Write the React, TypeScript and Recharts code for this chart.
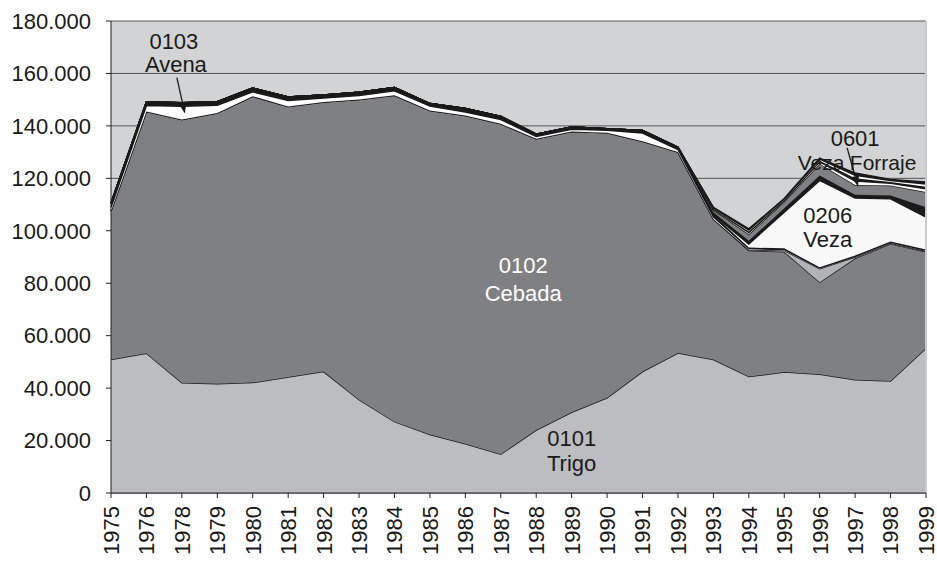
import React from 'react';
import { AreaChart, Area, XAxis, YAxis, CartesianGrid, ReferenceDot, ReferenceLine } from 'recharts';

const years = ['1975','1976','1978','1979','1980','1981','1982','1983','1984','1985','1986','1987','1988','1989','1990','1991','1992','1993','1994','1995','1996','1997','1998','1999'];
const trigo0101 = [50900,53300,42000,41700,42100,44200,46300,35600,27200,22300,18800,14800,24000,30800,36300,46300,53400,50900,44400,46100,45300,43200,42700,55200];
const cebada0102 = [56600,92200,100400,103200,109200,103200,102800,114500,124500,123600,125200,126000,111100,107100,101100,87800,76600,53600,48100,45900,35100,46300,52300,36800];
const otroGris = [0,0,0,0,0,0,0,0,0,0,0,0,0,0,0,0,0,0,300,500,5100,500,300,300];
const avena0103 = [1500,2300,5100,3000,1700,2300,1500,1500,1700,1700,1300,1600,900,800,900,3200,1000,800,400,400,300,300,300,300];
const otroNegro = [1500,1300,1300,1300,1400,1300,1200,1200,1200,900,1300,1200,800,900,600,900,800,800,400,400,300,300,300,300];
const veza0206 = [0,0,0,0,0,0,0,0,0,0,0,0,0,0,0,0,0,0,1400,13800,33100,21900,16300,12300];
const otroNegro2 = [0,0,0,0,0,0,0,0,0,0,0,0,0,0,0,0,0,1000,1200,1500,1900,1200,1300,3800];
const vezaForraje0601 = [0,0,0,0,0,0,0,0,0,0,0,0,0,0,0,0,0,800,2500,2500,4500,3800,3800,5800];
const otroBlanco1 = [0,0,0,0,0,0,0,0,0,0,0,0,0,0,0,0,0,300,600,400,700,1500,800,1200];
const otroNegro3 = [0,0,0,0,0,0,0,0,0,0,0,0,0,0,0,0,0,200,400,200,400,1000,500,800];
const otroBlanco2 = [0,0,0,0,0,0,0,0,0,0,0,0,0,0,0,0,0,300,600,400,600,1200,600,1000];
const otroNegro4 = [0,0,0,0,0,0,0,0,0,0,0,0,0,0,0,0,0,200,400,200,400,800,400,800];
const yTicks = [0,20000,40000,60000,80000,100000,120000,140000,160000,180000];

const data = years.map((y, i) => ({
  year: y,
  trigo: trigo0101[i],
  cebada: cebada0102[i],
  gris: otroGris[i],
  avena: avena0103[i],
  negro: otroNegro[i],
  veza: veza0206[i],
  negro2: otroNegro2[i],
  forraje: vezaForraje0601[i],
  blanco1: otroBlanco1[i],
  negro3: otroNegro3[i],
  blanco2: otroBlanco2[i],
  negro4: otroNegro4[i],
}));

const FONT = '"Liberation Sans", Arial, Helvetica, sans-serif';
const fmt = (v: number) => String(v).replace(/\B(?=(\d{3})+(?!\d))/g, '.');

const series = [
  { key: 'trigo', fill: '#bcbdc0' },
  { key: 'cebada', fill: '#7f8084' },
  { key: 'gris', fill: '#b2b3b6' },
  { key: 'avena', fill: '#ffffff' },
  { key: 'negro', fill: '#1a1a1a' },
  { key: 'veza', fill: '#f8f8f8' },
  { key: 'negro2', fill: '#1a1a1a' },
  { key: 'forraje', fill: '#808185' },
  { key: 'blanco1', fill: '#ffffff' },
  { key: 'negro3', fill: '#1a1a1a' },
  { key: 'blanco2', fill: '#ffffff' },
  { key: 'negro4', fill: '#1a1a1a' },
];

function arrow(x1: number, y1: number, x2: number, y2: number) {
  const a = Math.atan2(y2 - y1, x2 - x1);
  const L = 11, W = 4;
  const bx = x2 - L * Math.cos(a), by = y2 - L * Math.sin(a);
  const pts = `${x2},${y2} ${bx + W * Math.sin(a)},${by - W * Math.cos(a)} ${bx - W * Math.sin(a)},${by + W * Math.cos(a)}`;
  return (
    <g>
      <line x1={x1} y1={y1} x2={bx} y2={by} stroke="#1a1a1a" strokeWidth={1.3} />
      <polygon points={pts} fill="#1a1a1a" />
    </g>
  );
}

const txt = (x: number, y: number, s: string, fill = '#1a1a1a', size = 22) => (
  <text x={x} y={y} textAnchor="middle" fontSize={size} fontFamily={FONT} fill={fill}>{s}</text>
);

const XTick = (props: any) => {
  const { x, y, payload } = props;
  return (
    <text x={x} y={y} transform={`rotate(-90 ${x} ${y})`} textAnchor="end" dy="0.36em" fontSize={22} fontFamily={FONT} fill="#1a1a1a">
      {payload.value}
    </text>
  );
};

export default function App() {
  return (
    <div style={{ position: 'absolute', left: 0, top: 0, width: 937, height: 568, background: '#ffffff' }}>
      <AreaChart width={937} height={568} data={data} margin={{ top: 21, right: 11, bottom: 0, left: 0 }}>
        <CartesianGrid vertical={false} stroke="#555" fill="#d2d3d5" fillOpacity={1} />
        <XAxis dataKey="year" interval={0} height={75} tickSize={5} tickMargin={8} stroke="#222" tick={<XTick />} />
        <YAxis width={111} domain={[0, 180000]} ticks={yTicks} tickFormatter={fmt} tickSize={5} tickMargin={15} stroke="#222"
          tick={{ fontSize: 22, fontFamily: FONT, fill: '#1a1a1a' }} />
        {series.map(s => (
          <Area key={s.key} type="linear" dataKey={s.key} stackId="1" fill={s.fill} fillOpacity={1}
            stroke="#1a1a1a" strokeWidth={1.5} isAnimationActive={false} dot={false} activeDot={false} />
        ))}
        <ReferenceLine x="1999" stroke="#c9cacc" strokeWidth={2} />
        <ReferenceDot x="1978" y={144700} r={0} shape={(p: any) => (
          <g>
            {arrow(p.cx - 5, p.cy - 36, p.cx + 3, p.cy)}
            {txt(p.cx - 8, p.cy - 65, '0103')}
            {txt(p.cx - 6, p.cy - 42, 'Avena')}
          </g>
        )} />
        <ReferenceDot x="1997" y={117900} r={0} shape={(p: any) => (
          <g>
            {arrow(p.cx - 8, p.cy - 36, p.cx + 3, p.cy + 3)}
            {txt(p.cx, p.cy - 38, '0601')}
            {txt(p.cx - 34, p.cy - 14, 'Veza', '#1a1a1a', 21)}
            {txt(p.cx + 28, p.cy - 14, 'Forraje', '#1a1a1a', 21)}
          </g>
        )} />
        <ReferenceDot x="1996" y={100000} r={0} shape={(p: any) => (
          <g>
            {txt(p.cx + 8, p.cy - 8, '0206')}
            {txt(p.cx + 8, p.cy + 16, 'Veza')}
          </g>
        )} />
        <ReferenceDot x="1988" y={80000} r={0} shape={(p: any) => (
          <g>
            {txt(p.cx - 13, p.cy - 10, '0102', '#ffffff')}
            {txt(p.cx - 13, p.cy + 18, 'Cebada', '#ffffff')}
          </g>
        )} />
        <ReferenceDot x="1989" y={20000} r={0} shape={(p: any) => (
          <g>
            {txt(p.cx, p.cy + 5, '0101')}
            {txt(p.cx, p.cy + 30, 'Trigo')}
          </g>
        )} />
      </AreaChart>
    </div>
  );
}
